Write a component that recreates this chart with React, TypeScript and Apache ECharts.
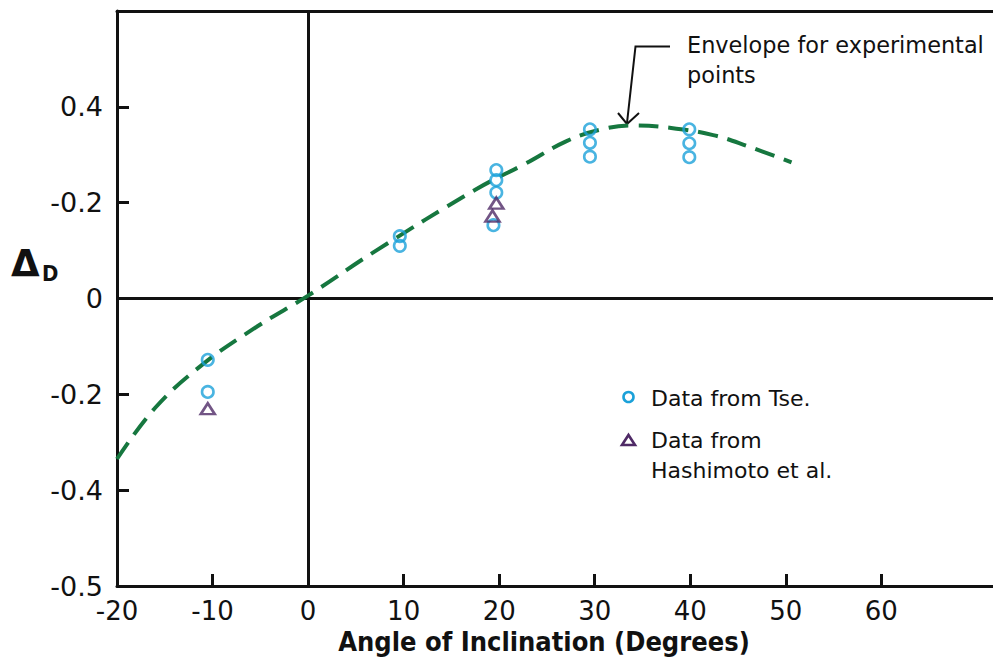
import React, { useEffect, useRef } from "react";
import * as echarts from "echarts";

// ---- data ----
const xTickValues = [-20, -10, 0, 10, 20, 30, 40, 50, 60];
const xTickLabels = ["-20", "-10", "0", "10", "20", "30", "40", "50", "60"];
const yTickValues = [-0.6, -0.4, -0.2, 0, 0.2, 0.4];
const yTickLabels = ["-0.5", "-0.4", "-0.2", "0", "-0.2", "0.4"];

const envelopeX = [-20, -16, -11, -5.3, 0, 7.2, 17.5, 22.8, 27, 30.5, 34, 38, 42.4, 46, 50.6];
const envelopeY = [-0.335, -0.228, -0.137, -0.058, 0.006, 0.101, 0.227, 0.282, 0.328, 0.352, 0.361, 0.356, 0.341, 0.318, 0.284];

const tseX = [-10.5, -10.5, 9.6, 9.6, 19.7, 19.7, 19.7, 19.4, 29.5, 29.5, 29.5, 39.9, 39.9, 39.9];
const tseY = [-0.128, -0.195, 0.13, 0.11, 0.268, 0.247, 0.221, 0.153, 0.353, 0.325, 0.296, 0.353, 0.324, 0.295];

const hashX = [-10.5, 19.7, 19.3];
const hashY = [-0.23, 0.199, 0.172];

const seriesNames = ["Data from Tse.", "Data from", "Hashimoto et al."];
const annotationLines = ["Envelope for experimental", "points"];
const xAxisTitle = "Angle of Inclination (Degrees)";

const GREEN = "#16773F";
const BLUE = "#1BA1D9";
const PURPLE = "#4F2A66";
const INK = "#111111";

export default function App() {
  const ref = useRef<HTMLDivElement>(null);

  useEffect(() => {
    if (!ref.current) return;
    const chart = echarts.init(ref.current, undefined, { renderer: "svg" });

    const yLabelFor = (v: number) => {
      const i = yTickValues.findIndex((t) => Math.abs(t - v) < 1e-9);
      return i >= 0 ? yTickLabels[i] : "";
    };
    const xLabelFor = (v: number) => {
      const i = xTickValues.findIndex((t) => Math.abs(t - v) < 1e-9);
      return i >= 0 ? xTickLabels[i] : "";
    };

    const option: any = {
      animation: false,
      backgroundColor: "#ffffff",
      grid: { left: 117, top: 11, right: -3, bottom: 83, containLabel: false, outerBoundsMode: "none" },
      xAxis: [
        {
          type: "value",
          min: -20,
          max: 72,
          interval: 10,
          position: "bottom",
          axisLine: { show: true, onZero: false, lineStyle: { color: INK, width: 3 } },
          axisTick: { show: true, inside: true, length: 12, lineStyle: { color: INK, width: 3 }, customValues: xTickValues.slice(1) },
          axisLabel: {
            show: true,
            customValues: xTickValues,
            formatter: (v: number) => xLabelFor(v),
            color: INK,
            fontSize: 26,
            fontFamily: "DejaVu Sans",
            margin: 12,
          },
          splitLine: { show: false },
        },
        {
          type: "value",
          min: -20,
          max: 72,
          position: "top",
          axisLine: { show: true, onZero: false, lineStyle: { color: INK, width: 3 } },
          axisTick: { show: false },
          axisLabel: { show: false },
          splitLine: { show: false },
        },
      ],
      yAxis: {
        type: "value",
        min: -0.6,
        max: 0.6,
        interval: 0.2,
        axisLine: { show: true, onZero: false, lineStyle: { color: INK, width: 3 } },
        axisTick: { show: true, inside: true, length: 12, lineStyle: { color: INK, width: 3 }, customValues: [-0.4, -0.2, 0, 0.2, 0.4] },
        axisLabel: {
          show: true,
          customValues: yTickValues,
          formatter: (v: number) => yLabelFor(v),
          color: INK,
          fontSize: 27,
          fontFamily: "DejaVu Sans",
          margin: 14,
        },
        splitLine: { show: false },
      },
      series: [
        {
          name: "Envelope",
          type: "line",
          data: envelopeX.map((x, i) => [x, envelopeY[i]]),
          smooth: 0.4,
          showSymbol: false,
          symbol: "none",
          lineStyle: { color: GREEN, width: 4, type: [20, 10] },
          z: 2,
          silent: true,
          markLine: {
            silent: true,
            symbol: ["none", "none"],
            label: { show: false },
            lineStyle: { color: INK, width: 3, type: "solid" },
            data: [{ xAxis: 0 }, { yAxis: 0 }],
            z: 1,
          },
        },
        {
          name: seriesNames[0],
          type: "scatter",
          data: tseX.map((x, i) => [x, tseY[i]]),
          symbol: "circle",
          symbolSize: 11.5,
          itemStyle: { color: "rgba(0,0,0,0)", borderColor: BLUE, borderWidth: 2.6 },
          z: 3,
        },
        {
          name: seriesNames[1] + " " + seriesNames[2],
          type: "scatter",
          data: hashX.map((x, i) => [x, hashY[i]]),
          symbol: "triangle",
          symbolSize: [14, 11],
          itemStyle: { color: "rgba(0,0,0,0)", borderColor: PURPLE, borderWidth: 2.6 },
          z: 4,
        },
      ],
      graphic: [
        // y-axis name: Delta with subscript D
        { type: "text", left: 11, top: 245, style: { text: "Δ", fill: INK, font: "bold 37px 'DejaVu Sans'" } },
        { type: "text", left: 42, top: 262, style: { text: "D", fill: INK, font: "bold 22px 'DejaVu Sans Condensed', 'Liberation Sans'" } },
        // x-axis title
        {
          type: "text",
          x: 544,
          y: 641,
          style: {
            text: xAxisTitle,
            fill: INK,
            font: "bold 27px 'DejaVu Sans Condensed', 'Liberation Sans'",
            textAlign: "center",
            textVerticalAlign: "middle",
          },
        },
        // annotation
        { type: "text", x: 687, y: 45, style: { text: annotationLines[0], fill: INK, font: "22.4px 'DejaVu Sans'", textVerticalAlign: "middle" } },
        { type: "text", x: 687, y: 75, style: { text: annotationLines[1], fill: INK, font: "22.4px 'DejaVu Sans'", textVerticalAlign: "middle" } },
        { type: "polyline", shape: { points: [[670, 46.5], [635.5, 46.5], [627, 123]] }, style: { stroke: INK, lineWidth: 2, fill: "none" } },
        { type: "polyline", shape: { points: [[618, 113], [627, 124], [639, 113]] }, style: { stroke: INK, lineWidth: 2, fill: "none" } },
        // legend
        { type: "circle", shape: { cx: 628.5, cy: 397, r: 5 }, style: { stroke: BLUE, lineWidth: 2.6, fill: "none" } },
        { type: "text", x: 651, y: 398, style: { text: seriesNames[0], fill: INK, font: "22px 'DejaVu Sans'", textVerticalAlign: "middle" } },
        { type: "polygon", shape: { points: [[628.5, 435], [635, 445], [622, 445]] }, style: { stroke: PURPLE, lineWidth: 2.6, fill: "none" } },
        { type: "text", x: 651, y: 440, style: { text: seriesNames[1], fill: INK, font: "22px 'DejaVu Sans'", textVerticalAlign: "middle" } },
        { type: "text", x: 651, y: 470, style: { text: seriesNames[2], fill: INK, font: "22px 'DejaVu Sans'", textVerticalAlign: "middle" } },
      ],
    };

    chart.setOption(option);
    return () => chart.dispose();
  }, []);

  return (
    <div
      ref={ref}
      style={{ position: "fixed", left: 0, top: 0, width: 993, height: 669, background: "#ffffff" }}
    />
  );
}
